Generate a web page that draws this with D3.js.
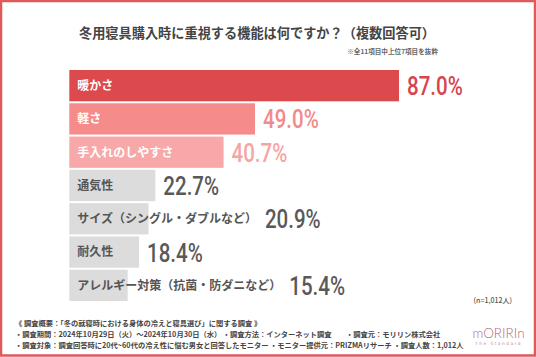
<!DOCTYPE html>
<html><head><meta charset="utf-8">
<script src="https://cdn.jsdelivr.net/npm/d3@7"></script>
<style>
html,body{margin:0;padding:0;background:#fff;}
svg{display:block;}
</style></head>
<body>
<svg id="c" width="536" height="357"></svg>
<script>
const categories = ["暖かさ","軽さ","手入れのしやすさ","通気性","サイズ（シングル・ダブルなど）","耐久性","アレルギー対策（抗菌・防ダニなど）"];
const values = [87.0, 49.0, 40.7, 22.7, 20.9, 18.4, 15.4];
const barColors = ["#dc4a4d","#f58b8b","#f8a8a8","#dcdcdc","#dcdcdc","#dcdcdc","#dcdcdc"];
const valueColors = ["#d6454a","#f28a8a","#f6a4a4","#595959","#595959","#595959","#595959"];
const labelColors = ["#ffffff","#ffffff","#ffffff","#555555","#555555","#555555","#555555"];
const title = "冬用寝具購入時に重視する機能は何ですか？（複数回答可）";
const note = "※全11項目中上位7項目を抜粋";
const sampleNote = "(n=1,012人)";
const footer = [
  "《 調査概要：「冬の就寝時における身体の冷えと寝具選び」に関する調査 》",
  "・調査期間：2024年10月29日（火）～2024年10月30日（水） ・調査方法：インターネット調査　　・調査元：モリリン株式会社",
  "・調査対象：調査回答時に20代~60代の冷え性に悩む男女と回答したモニター ・モニター提供元：PRIZMAリサーチ ・調査人数：1,012人"
];

const W = 536, H = 357;
const svg = d3.select("#c");
const jp = "'Noto Sans CJK JP','Noto Sans',sans-serif";

// border
svg.append("rect").attr("x",1).attr("y",1).attr("width",W-2).attr("height",H-2.5)
  .attr("fill","#fff").attr("stroke","#e05a5a").attr("stroke-width",2.5);

// title
svg.append("text").attr("x",257).attr("y",38).attr("text-anchor","middle")
  .attr("font-family",jp).attr("font-weight",700).attr("font-size",13.2).attr("fill","#444")
  .text(title);
svg.append("text").attr("x",438).attr("y",54).attr("text-anchor","end")
  .attr("font-family",jp).attr("font-weight",700).attr("font-size",6.6).attr("fill","#666")
  .text(note);

const x = d3.scaleLinear().domain([0,100]).range([69.3, 69.3+379]);
const y = d3.scaleBand().domain(categories).range([70, 301]).paddingInner(0.06).paddingOuter(0.0);

const g = svg.append("g");
const rows = g.selectAll("g.row").data(categories).join("g").attr("class","row");
rows.append("rect")
  .attr("x",x(0)).attr("y",d=>y(d))
  .attr("width",(d,i)=>x(values[i])-x(0)).attr("height",y.bandwidth())
  .attr("fill",(d,i)=>barColors[i]);
rows.append("text")
  .attr("x",x(0)+8).attr("y",d=>y(d)+y.bandwidth()/2+4.3)
  .attr("font-family",jp).attr("font-weight",700).attr("font-size",12)
  .attr("fill",(d,i)=>labelColors[i]).text(d=>d);

rows.each(function(d,i){
  const lab = d3.select(this).select("text").node();
  const labEnd = lab.getComputedTextLength() + x(0) + 8;
  const barEnd = x(values[i]);
  const vx = Math.max(barEnd, labEnd) + 8;
  const cy = y(d)+y.bandwidth()/2;
  d3.select(this).append("text")
    .attr("transform",`translate(${vx},${cy+9.5}) scale(0.82,1)`)
    .attr("font-family","Roboto,sans-serif").attr("font-weight",500).attr("font-size",25)
    .attr("fill",valueColors[i]).text(values[i].toFixed(1)+"%");
});

svg.append("text").attr("x",512).attr("y",302.5).attr("text-anchor","end")
  .attr("font-family",jp).attr("font-weight",500).attr("font-size",7).attr("fill","#555")
  .text(sampleNote);

svg.selectAll("text.foot").data(footer).join("text").attr("class","foot")
  .attr("x",15).attr("y",(d,i)=>325.5+i*11)
  .attr("font-family",jp).attr("font-weight",700).attr("font-size",7.25).attr("fill","#444")
  .text(d=>d);

// logo
svg.append("text").attr("x",498.5).attr("y",337.5).attr("text-anchor","middle")
  .attr("font-family","Lato,'Open Sans',sans-serif").attr("font-weight",300).attr("font-size",13.5)
  .attr("fill","#b5697a").attr("letter-spacing",0).text("mORIRIn");
svg.append("text").attr("x",498.5).attr("y",345).attr("text-anchor","middle")
  .attr("font-family","'DejaVu Sans',sans-serif").attr("font-size",4.3)
  .attr("fill","#c58e9a").attr("letter-spacing",1.5).text("The Standard");
</script>
</body></html>
